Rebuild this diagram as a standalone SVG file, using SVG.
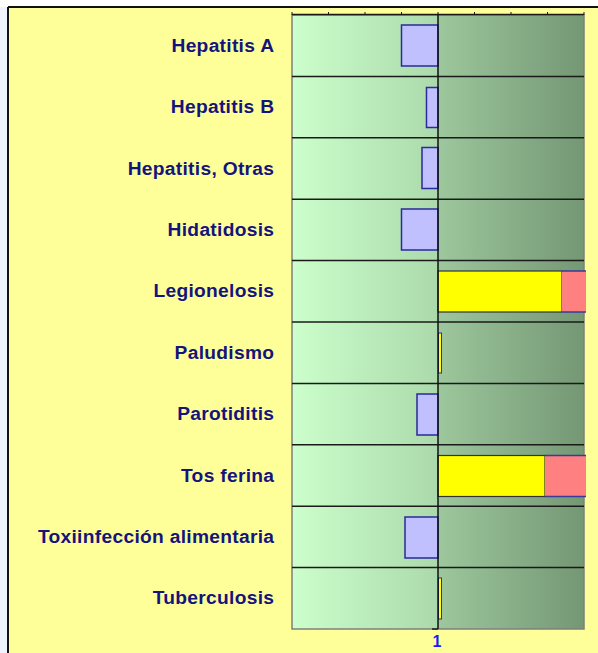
<svg xmlns="http://www.w3.org/2000/svg" width="598" height="653" viewBox="0 0 598 653">
<defs>
<linearGradient id="bg" gradientUnits="userSpaceOnUse" x1="292" y1="0" x2="584" y2="0">
<stop offset="0" stop-color="#ccffcc"/>
<stop offset="0.5" stop-color="#abd9ab"/>
<stop offset="0.5" stop-color="#9dc79d"/>
<stop offset="1" stop-color="#749774"/>
</linearGradient>
<style>
.lbl{font-family:"Liberation Sans",Arial,sans-serif;font-weight:bold;font-size:19.2px;letter-spacing:0.3px;fill:#14147c;text-anchor:end}
.neg{fill:#c0c0ff;stroke:#2a2a9a;stroke-width:1.5}
.pos{fill:#ffff00;stroke:#333333;stroke-width:1.2}
.thin{fill:#ffff00;stroke:#2a2a9a;stroke-width:1}
.pink{fill:#ff8080}
.pinkedge{stroke:#3a3a9a;stroke-width:1.5}
.sep{stroke:#1a1a1a;stroke-width:1.5}
.tick{stroke:#1a1a1a;stroke-width:1}
</style>
</defs>
<rect x="0" y="0" width="598" height="653" fill="#ffffff"/>
<rect x="0" y="7" width="8" height="646" fill="#eef3ff"/>
<rect x="8" y="7" width="590" height="646" fill="#ffff99"/>
<line x1="8" y1="7" x2="598" y2="7" stroke="#111" stroke-width="2"/>
<line x1="8" y1="7" x2="8" y2="653" stroke="#111" stroke-width="2"/>
<g id="plot">
<rect x="292" y="15" width="292" height="614" fill="url(#bg)" stroke="#7f7f7f" stroke-width="1.5"/>
</g>
<g id="connectors">
<line class="sep" x1="292" y1="76.4" x2="584" y2="76.4"/>
<line class="sep" x1="292" y1="137.8" x2="584" y2="137.8"/>
<line class="sep" x1="292" y1="199.2" x2="584" y2="199.2"/>
<line class="sep" x1="292" y1="260.6" x2="584" y2="260.6"/>
<line class="sep" x1="292" y1="322" x2="584" y2="322"/>
<line class="sep" x1="292" y1="383.4" x2="584" y2="383.4"/>
<line class="sep" x1="292" y1="444.8" x2="584" y2="444.8"/>
<line class="sep" x1="292" y1="506.2" x2="584" y2="506.2"/>
<line class="sep" x1="292" y1="567.6" x2="584" y2="567.6"/>
<line x1="292" y1="14.5" x2="584" y2="14.5" stroke="#1a1a1a" stroke-width="1.5"/>
<g class="tick">
<line x1="292" y1="12" x2="292" y2="15"/>
<line x1="328.5" y1="12" x2="328.5" y2="15"/>
<line x1="365" y1="12" x2="365" y2="15"/>
<line x1="401.5" y1="12" x2="401.5" y2="15"/>
<line x1="438" y1="12" x2="438" y2="15"/>
<line x1="474.5" y1="12" x2="474.5" y2="15"/>
<line x1="511" y1="12" x2="511" y2="15"/>
<line x1="547.5" y1="12" x2="547.5" y2="15"/>
<line x1="584" y1="12" x2="584" y2="15"/>
</g>
</g>
<g id="bars">
<rect class="neg" x="401.5" y="25" width="36.5" height="41"/>
<rect class="neg" x="426.5" y="87.5" width="11.5" height="40"/>
<rect class="neg" x="422" y="147.5" width="16" height="41"/>
<rect class="neg" x="401.5" y="209" width="36.5" height="41"/>
<rect class="pos" x="438" y="271" width="124" height="41"/>
<rect class="pink" x="562" y="271" width="24" height="41"/>
<line class="pinkedge" x1="562" y1="271" x2="586" y2="271"/>
<line class="pinkedge" x1="562" y1="312" x2="586" y2="312"/>
<rect class="thin" x="438.5" y="333" width="3" height="40"/>
<rect class="neg" x="417" y="394" width="21" height="41"/>
<rect class="pos" x="438" y="455.5" width="107" height="41"/>
<rect class="pink" x="545" y="455.5" width="41" height="41"/>
<line class="pinkedge" x1="545" y1="455.5" x2="586" y2="455.5"/>
<line class="pinkedge" x1="545" y1="496.5" x2="586" y2="496.5"/>
<rect class="neg" x="405" y="517" width="33" height="41"/>
<rect class="thin" x="438.5" y="578" width="3" height="41"/>
</g>
<line x1="438" y1="14" x2="438" y2="629" stroke="#111" stroke-width="1.5"/>
<line x1="432" y1="629" x2="438" y2="629" stroke="#1a1a1a" stroke-width="1.5"/>
<g id="labels">
<g id="n-hepA"><text class="lbl" x="274.3" y="51.7">Hepatitis A</text></g>
<g id="n-hepB"><text class="lbl" x="274.3" y="113.1">Hepatitis B</text></g>
<g id="n-hepO"><text class="lbl" x="274.3" y="174.5">Hepatitis, Otras</text></g>
<g id="n-hida"><text class="lbl" x="274.3" y="235.9">Hidatidosis</text></g>
<g id="n-legi"><text class="lbl" x="274.3" y="297.3">Legionelosis</text></g>
<g id="n-palu"><text class="lbl" x="274.3" y="358.7">Paludismo</text></g>
<g id="n-paro"><text class="lbl" x="274.3" y="420.1">Parotiditis</text></g>
<g id="n-tos"><text class="lbl" x="274.3" y="481.5">Tos ferina</text></g>
<g id="n-toxi"><text class="lbl" x="274.3" y="542.9">Toxiinfección alimentaria</text></g>
<g id="n-tube"><text class="lbl" x="274.3" y="604.3">Tuberculosis</text></g>
</g>
<text x="437" y="647" font-family="'Liberation Sans',Arial,sans-serif" font-weight="bold" font-size="16" fill="#1a1aff" text-anchor="middle">1</text>
</svg>
